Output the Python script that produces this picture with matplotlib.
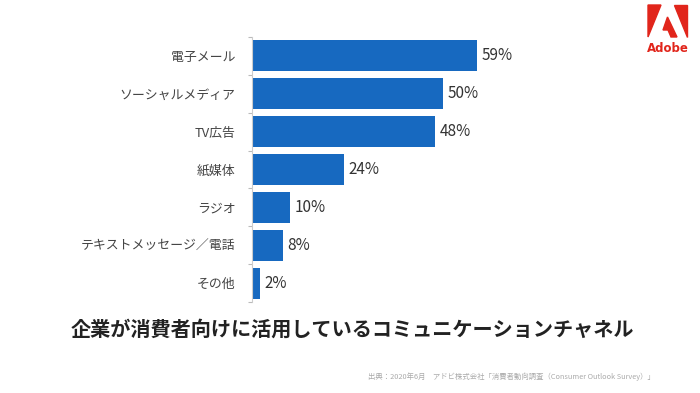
import numpy as np
import matplotlib.pyplot as plt
from matplotlib.patches import Polygon

plt.rcParams['font.family'] = ['Noto Sans CJK JP', 'DejaVu Sans']

categories = ["電子メール", "ソーシャルメディア", "TV広告", "紙媒体", "ラジオ",
              "テキストメッセージ／電話", "その他"]
values = [59, 50, 48, 24, 10, 8, 2]
value_labels = ["59%", "50%", "48%", "24%", "10%", "8%", "2%"]
title = "企業が消費者向けに活用しているコミュニケーションチャネル"
source = "出典：2020年6月　アドビ株式会社「消費者動向調査（Consumer Outlook Survey）」"

W, H = 700, 393
fig = plt.figure(figsize=(7, 3.93), dpi=100)
ax = fig.add_axes([252 / W, 1 - 302 / H, 267 / W, 265 / H])

y = np.arange(len(categories))
ax.barh(y, values, height=0.82, color="#1769c0")
for yi, v, lab in zip(y, values, value_labels):
    ax.text(v + 1.2, yi, lab, va="center", ha="left", fontsize=11, color="#333333")

ax.set_xlim(0, 70)
ax.set_ylim(len(categories) - 0.5, -0.5)
ax.set_yticks(y)
ax.set_yticklabels(categories, fontsize=9.3, color="#444444")
ax.tick_params(axis="y", which="major", length=0, pad=12)
ax.set_yticks(np.arange(-0.5, len(categories), 1), minor=True)
ax.tick_params(axis="y", which="minor", length=3, color="#bbbbbb", width=0.8)
ax.set_xticks([])
for s in ["top", "right", "bottom"]:
    ax.spines[s].set_visible(False)
ax.spines["left"].set_color("#cccccc")
ax.spines["left"].set_linewidth(0.8)

fig.text(352 / W, 1 - 329 / H, title, ha="center", va="center",
         fontsize=14.5, fontweight="bold", color="#222222")
fig.text(655 / W, 1 - 377 / H, source, ha="right", va="center",
         fontsize=5.3, color="#aaaaaa")

# Adobe logo
def px(pts):
    return [(x / W, 1 - yy / H) for x, yy in pts]

red = "#e1251b"
fig.add_artist(Polygon(px([(648, 5), (661, 5), (648, 37)]), closed=True,
                       color=red, transform=fig.transFigure))
fig.add_artist(Polygon(px([(674, 5), (687, 5), (687, 37)]), closed=True,
                       color=red, transform=fig.transFigure))
fig.add_artist(Polygon(px([(667.5, 17), (677, 37), (671, 37), (668, 30), (663, 30)]),
                       closed=True, color=red, transform=fig.transFigure))
fig.text(667.5 / W, 1 - 49 / H, "Adobe", ha="center", va="center",
         fontsize=8.5, fontweight="bold", color=red, family="DejaVu Sans")

fig.savefig("out.png", dpi=100)
